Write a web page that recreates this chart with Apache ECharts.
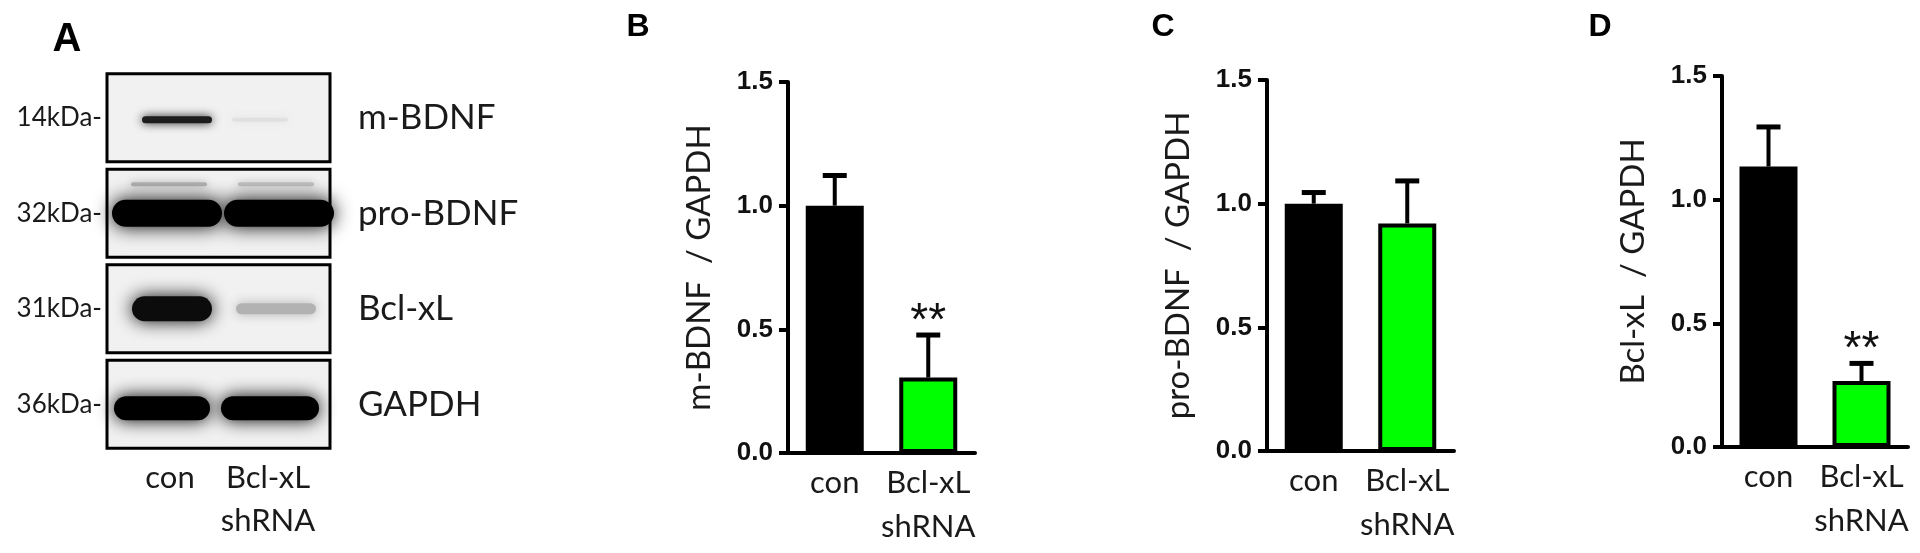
<!DOCTYPE html>
<html>
<head>
<meta charset="utf-8">
<script src="https://cdn.jsdelivr.net/npm/echarts@6/dist/echarts.min.js"></script>
<style>
html, body { margin: 0; padding: 0; background: #fff; }
#main { width: 1920px; height: 553px; }
</style>
</head>
<body>
<div id="main"></div>
<script>
// categories
var groups = ['con', 'Bcl-xL\nshRNA'];
var yTicks = [0, 0.5, 1.0, 1.5];

// B: m-BDNF / GAPDH
var mBdnfMean = [1.0, 0.305];
var mBdnfErr = [0.122, 0.172];
var mBdnfSig = ['', '**'];

// C: pro-BDNF / GAPDH
var proBdnfMean = [1.0, 0.92];
var proBdnfErr = [0.045, 0.172];
var proBdnfSig = ['', ''];

// D: Bcl-xL / GAPDH
var bclMean = [1.134, 0.267];
var bclErr = [0.16, 0.071];
var bclSig = ['', '**'];

// A: western blot, band darkness 0..1 per row
var blotRows = ['m-BDNF', 'pro-BDNF', 'Bcl-xL', 'GAPDH'];
var blotMarkers = ['14kDa-', '32kDa-', '31kDa-', '36kDa-'];
var bandCon = [0.88, 1.0, 0.95, 1.0];
var bandShrna = [0.07, 1.0, 0.26, 1.0];
var proUpperBand = [0.26, 0.2];

var myChart = echarts.init(document.getElementById('main'));

var FONT = 'Lato';
var NUMFONT = 'Liberation Sans';

// band look per blot row (offsets from lane centre)
var bandShape = [
    { w: [70, 56], h: [7, 4], dx: [7, -8], dy: 2 },
    { w: [110, 110], h: [27, 27], dx: [-3, 11], dy: 0 },
    { w: [80, 80], h: [25, 11], dx: [2, 8], dy: 0 },
    { w: [96, 98], h: [24, 24], dx: [-8, 2], dy: 4 }
];

function grey(v) {
    var g = Math.round(241 * (1 - v));
    return 'rgb(' + g + ',' + g + ',' + g + ')';
}

function renderBand(params, api) {
    var lane = api.value(0), row = api.value(1), v = api.value(2);
    var c = api.coord([lane, row]);
    var s = bandShape[row];
    var w = s.w[lane], h = s.h[lane];
    var col = grey(v);
    return {
        type: 'rect',
        shape: { x: c[0] + s.dx[lane] - w / 2, y: c[1] + s.dy - h / 2, width: w, height: h, r: h / 2 },
        style: { fill: col, shadowBlur: h * 0.5 + 6, shadowColor: col }
    };
}

function renderUpper(params, api) {
    var lane = api.value(0), v = api.value(2);
    var c = api.coord([lane, 1]);
    var dx = [-1, 8][lane];
    var col = grey(v);
    return {
        type: 'rect',
        shape: { x: c[0] + dx - 38, y: c[1] - 31, width: 76, height: 4, r: 2 },
        style: { fill: col, shadowBlur: 8, shadowColor: col }
    };
}

function renderFrame(fill) {
    return function (params, api) {
        var cs = params.coordSys;
        var cy = api.coord([0, api.value(1)])[1];
        return {
            type: 'rect',
            shape: { x: cs.x - 14, y: cy - 44, width: cs.width + 27, height: 88 },
            style: fill ? { fill: '#f1f1f1' } : { fill: null, stroke: '#000', lineWidth: 3 }
        };
    };
}

var bandData = [];
for (var i = 0; i < blotRows.length; i++) {
    bandData.push([0, i, bandCon[i]]);
    bandData.push([1, i, bandShrna[i]]);
}
var frameData = blotRows.map(function (r, i) { return [0, i]; });
var upperData = proUpperBand.map(function (v, i) { return [i, 1, v]; });

// bar panels
var panels = [
    { name: 'm-BDNF  / GAPDH', mean: mBdnfMean, err: mBdnfErr, sig: mBdnfSig, grid: { left: 788, top: 82, width: 187, height: 371 } },
    { name: 'pro-BDNF  / GAPDH', mean: proBdnfMean, err: proBdnfErr, sig: proBdnfSig, grid: { left: 1267, top: 80, width: 187, height: 371 } },
    { name: 'Bcl-xL  / GAPDH', mean: bclMean, err: bclErr, sig: bclSig, grid: { left: 1722, top: 76, width: 186, height: 371 } }
];
var barColors = ['#000000', '#00ff00'];

var grids = [{ left: 121, top: 70, width: 196, height: 382 }];
var xAxes = [{
    type: 'category', gridIndex: 0, data: groups,
    axisLine: { show: false }, axisTick: { show: false },
    axisLabel: { fontFamily: FONT, fontSize: 31, color: '#1a1a1a', lineHeight: 43, margin: 4, interval: 0 }
}];
var yAxes = [{
    type: 'category', gridIndex: 0, data: blotMarkers, inverse: true, position: 'left',
    axisLine: { show: false }, axisTick: { show: false },
    axisLabel: { fontFamily: FONT, fontSize: 26, color: '#1a1a1a', margin: 19 }
}, {
    type: 'category', gridIndex: 0, data: blotRows, inverse: true, position: 'right',
    axisLine: { show: false }, axisTick: { show: false },
    axisLabel: { fontFamily: FONT, fontSize: 35, color: '#1a1a1a', margin: 41, align: 'left' }
}];
var series = [
    { type: 'custom', xAxisIndex: 0, yAxisIndex: 0, z: 1, renderItem: renderFrame(true), data: frameData },
    { type: 'custom', xAxisIndex: 0, yAxisIndex: 0, z: 2, renderItem: renderUpper, data: upperData },
    { type: 'custom', xAxisIndex: 0, yAxisIndex: 0, z: 3, renderItem: renderBand, data: bandData },
    { type: 'custom', xAxisIndex: 0, yAxisIndex: 0, z: 4, renderItem: renderFrame(false), data: frameData }
];

panels.forEach(function (p, k) {
    var gi = k + 1, yi = k + 2;
    grids.push(p.grid);
    xAxes.push({
        type: 'category', gridIndex: gi, data: groups,
        axisLine: { lineStyle: { color: '#000', width: 4 } },
        axisTick: { alignWithLabel: true, length: 10, lineStyle: { color: '#000', width: 4 } },
        axisLabel: { fontFamily: FONT, fontSize: 31, color: '#1a1a1a', lineHeight: 44, margin: 8, interval: 0 }
    });
    yAxes.push({
        type: 'value', gridIndex: gi,
        min: yTicks[0], max: yTicks[yTicks.length - 1], interval: yTicks[1] - yTicks[0],
        name: p.name, nameLocation: 'middle', nameGap: 72,
        nameTextStyle: { fontFamily: FONT, fontSize: 33, color: '#1a1a1a' },
        splitLine: { show: false },
        axisLine: { show: true, lineStyle: { color: '#000', width: 4 } },
        axisTick: { show: true, length: 9, lineStyle: { color: '#000', width: 4 } },
        axisLabel: {
            fontFamily: NUMFONT, fontWeight: 'bold', fontSize: 26, color: '#111', margin: 15,
            formatter: function (v) { return v.toFixed(1); }
        }
    });
    series.push({
        type: 'bar', xAxisIndex: gi, yAxisIndex: yi, barWidth: 58, z: 2,
        data: p.mean.map(function (v, i) {
            return { value: v, itemStyle: { color: barColors[i], borderColor: '#000', borderWidth: 4 } };
        })
    });
    series.push({
        type: 'custom', xAxisIndex: gi, yAxisIndex: yi, z: 3,
        data: p.mean.map(function (v, i) { return [i, v, p.err[i]]; }),
        renderItem: function (params, api) {
            var i = api.value(0);
            var base = api.coord([i, api.value(1)]);
            var top = api.coord([i, api.value(1) + api.value(2)]);
            var kids = [
                { type: 'line', shape: { x1: top[0], y1: base[1], x2: top[0], y2: top[1] }, style: { stroke: '#000', lineWidth: 4 } },
                { type: 'line', shape: { x1: top[0] - 12, y1: top[1], x2: top[0] + 12, y2: top[1] }, style: { stroke: '#000', lineWidth: 5 } }
            ];
            if (p.sig[i]) {
                kids.push({
                    type: 'text',
                    style: { text: p.sig[i], x: top[0], y: top[1] - 13, align: 'center', verticalAlign: 'middle', font: '46px "Liberation Sans"', fill: '#111' }
                });
            }
            return { type: 'group', children: kids };
        }
    });
});

var option = {
    animation: false,
    backgroundColor: '#fff',
    textStyle: { fontFamily: FONT },
    grid: grids,
    xAxis: xAxes,
    yAxis: yAxes,
    series: series,
    graphic: [
        { type: 'text', x: 67, y: 40, style: { text: 'A', font: 'bold 40px "Liberation Sans"', align: 'center', verticalAlign: 'middle', fill: '#000' } },
        { type: 'text', x: 638, y: 27, style: { text: 'B', font: 'bold 32px "Liberation Sans"', align: 'center', verticalAlign: 'middle', fill: '#000' } },
        { type: 'text', x: 1163, y: 27, style: { text: 'C', font: 'bold 32px "Liberation Sans"', align: 'center', verticalAlign: 'middle', fill: '#000' } },
        { type: 'text', x: 1600, y: 27, style: { text: 'D', font: 'bold 32px "Liberation Sans"', align: 'center', verticalAlign: 'middle', fill: '#000' } }
    ]
};
myChart.setOption(option);
</script>
</body>
</html>
